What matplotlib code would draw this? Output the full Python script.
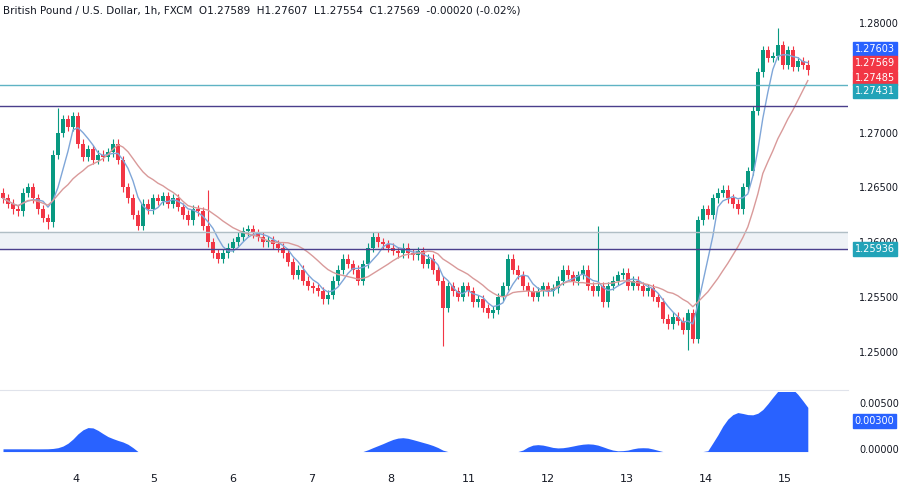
import numpy as np
import matplotlib.pyplot as plt

# hourly-ish closes, one candle every 5 px of the reference
closes = [
    1.2640, 1.2635, 1.2630, 1.2628, 1.2645, 1.2650, 1.2640, 1.2630, 1.2622, 1.2618,
    1.2680, 1.2700, 1.2712, 1.2705, 1.2715, 1.2690, 1.2678, 1.2685, 1.2675, 1.2680,
    1.2678, 1.2682, 1.2690, 1.2675, 1.2650, 1.2640, 1.2625, 1.2615, 1.2635, 1.2630,
    1.2640, 1.2638, 1.2642, 1.2635, 1.2640, 1.2632, 1.2625, 1.2620, 1.2630, 1.2628,
    1.2615, 1.2600, 1.2590, 1.2585, 1.2590, 1.2595, 1.2600, 1.2605, 1.2610, 1.2612,
    1.2608, 1.2605, 1.2600, 1.2602, 1.2598, 1.2595, 1.2590, 1.2582, 1.2570, 1.2575,
    1.2565, 1.2560, 1.2558, 1.2555, 1.2548, 1.2552, 1.2565, 1.2575, 1.2585, 1.2580,
    1.2575, 1.2565, 1.2580, 1.2595, 1.2605, 1.2600, 1.2598, 1.2595, 1.2592, 1.2590,
    1.2595, 1.2590, 1.2588, 1.2592, 1.2580, 1.2585, 1.2575, 1.2565, 1.2540, 1.2560,
    1.2555, 1.2550, 1.2560, 1.2555, 1.2545, 1.2548, 1.2540, 1.2535, 1.2538, 1.2550,
    1.2560, 1.2585, 1.2575, 1.2570, 1.2560, 1.2555, 1.2550, 1.2555, 1.2560, 1.2555,
    1.2558, 1.2565, 1.2575, 1.2570, 1.2565, 1.2570, 1.2575, 1.2560, 1.2555, 1.2560,
    1.2545, 1.2560, 1.2565, 1.2570, 1.2572, 1.2560, 1.2565, 1.2560, 1.2555, 1.2558,
    1.2550, 1.2545, 1.2530, 1.2525, 1.2532, 1.2528, 1.2520, 1.2535, 1.2512, 1.2620,
    1.2630, 1.2625, 1.2640, 1.2645, 1.2648, 1.2640, 1.2635, 1.2630, 1.2650, 1.2665,
    1.2720, 1.2755, 1.2775, 1.2768, 1.2770, 1.2780, 1.2762, 1.2775, 1.2760, 1.2765,
    1.2762, 1.2757,
]
first_open = 1.2645
wick = 0.0004
spike_highs = {11: 1.2722, 119: 1.2615, 155: 1.2795, 41: 1.2648}
spike_lows = {88: 1.2505, 137: 1.2502, 9: 1.2612}

day_labels = ["4", "5", "6", "7", "8", "11", "12", "13", "14", "15"]
day_pos = [76, 154, 233, 312, 391, 469, 548, 627, 706, 785]

hlines = [(1.27431, "#5fb3c4"), (1.2724, "#4a3f8c"), (1.2609, "#b0bec5"), (1.25936, "#4a3f8c")]
# (value, colour, y position of the tag)
price_tags = [("1.27603", "#2962ff", 1.27760), ("1.27569", "#f23645", 1.27635),
              ("1.27485", "#f23645", 1.27500), ("1.27431", "#22a3b8", 1.27380),
              ("1.25936", "#22a3b8", 1.25936)]

closes = np.array(closes)
opens = np.concatenate([[first_open], closes[:-1]])
highs = np.maximum(opens, closes) + wick
lows = np.minimum(opens, closes) - wick
for k, v in spike_highs.items():
    highs[k] = v
for k, v in spike_lows.items():
    lows[k] = v
x = np.arange(len(closes)) * 5 + 3


def sma(a, n):
    out = np.convolve(a, np.ones(n) / n, mode="full")[:len(a)]
    out[:n] = [a[:i + 1].mean() for i in range(n)]
    return out


fast = sma(closes, 5)
slow = sma(closes, 14)
osc = sma(sma(closes, 6) - sma(closes, 22), 4) * 0.62

fig = plt.figure(figsize=(9, 4.84), dpi=100)
ax = fig.add_axes([0, 0.194, 0.942, 0.806])
ax2 = fig.add_axes([0, 0.05, 0.942, 0.14], sharex=ax)

up, dn = "#089981", "#f23645"
for xi, o, h, l, c in zip(x, opens, highs, lows, closes):
    col = up if c >= o else dn
    ax.vlines(xi, l, h, color=col, lw=0.8)
    ax.bar(xi, max(abs(c - o), 0.00005), bottom=min(o, c), width=3.6, color=col)
ax.plot(x, fast, color="#7fa6d8", lw=1)
ax.plot(x, slow, color="#d99a9a", lw=1)
for y, col in hlines:
    ax.axhline(y, color=col, lw=1)
ax.axhspan(1.2594, 1.2609, color="#eef2f6", zorder=0)

ax.set_xlim(0, 848)
ax.set_ylim(1.2465, 1.2821)
ax.yaxis.tick_right()
ax.set_yticks([1.25, 1.255, 1.26, 1.265, 1.27, 1.275, 1.28])
ax.set_yticklabels(["1.25000", "1.25500", "1.26000", "1.26500", "1.27000", "1.27500", "1.28000"])
ax.tick_params(axis="y", length=0, labelsize=7, colors="#131722", pad=8)
ax.tick_params(axis="x", bottom=False, labelbottom=False)
for s in ax.spines.values():
    s.set_visible(False)
ax.spines["bottom"].set_visible(True)
ax.spines["bottom"].set_color("#e0e3eb")

for txt, col, y in price_tags:
    ax.text(1.008, y, txt, transform=ax.get_yaxis_transform(), fontsize=7, color="white",
            va="center", ha="left", bbox=dict(boxstyle="square,pad=0.2", fc=col, ec=col), clip_on=False)

ax.text(0.003, 0.985, "British Pound / U.S. Dollar, 1h, FXCM  O1.27589  H1.27607  L1.27554  C1.27569  -0.00020 (-0.02%)",
        transform=ax.transAxes, fontsize=7.5, color="#131722", va="top")

ax2.fill_between(x, np.maximum(osc, -0.0003), -0.0003, color="#2962ff", lw=0)
ax2.set_ylim(-0.0012, 0.0062)
ax2.yaxis.tick_right()
ax2.set_yticks([0, 0.005])
ax2.set_yticklabels(["0.00000", "0.00500"])
ax2.tick_params(axis="y", length=0, labelsize=7, colors="#131722", pad=8)
ax2.text(1.008, 0.003, "0.00300", transform=ax2.get_yaxis_transform(), fontsize=7, color="white",
         va="center", bbox=dict(boxstyle="square,pad=0.2", fc="#2962ff", ec="#2962ff"), clip_on=False)
for s in ax2.spines.values():
    s.set_visible(False)
ax2.set_xticks(day_pos)
ax2.set_xticklabels(day_labels)
ax2.tick_params(axis="x", length=0, labelsize=8, colors="#131722", pad=10)

fig.savefig("out.png", dpi=100)
